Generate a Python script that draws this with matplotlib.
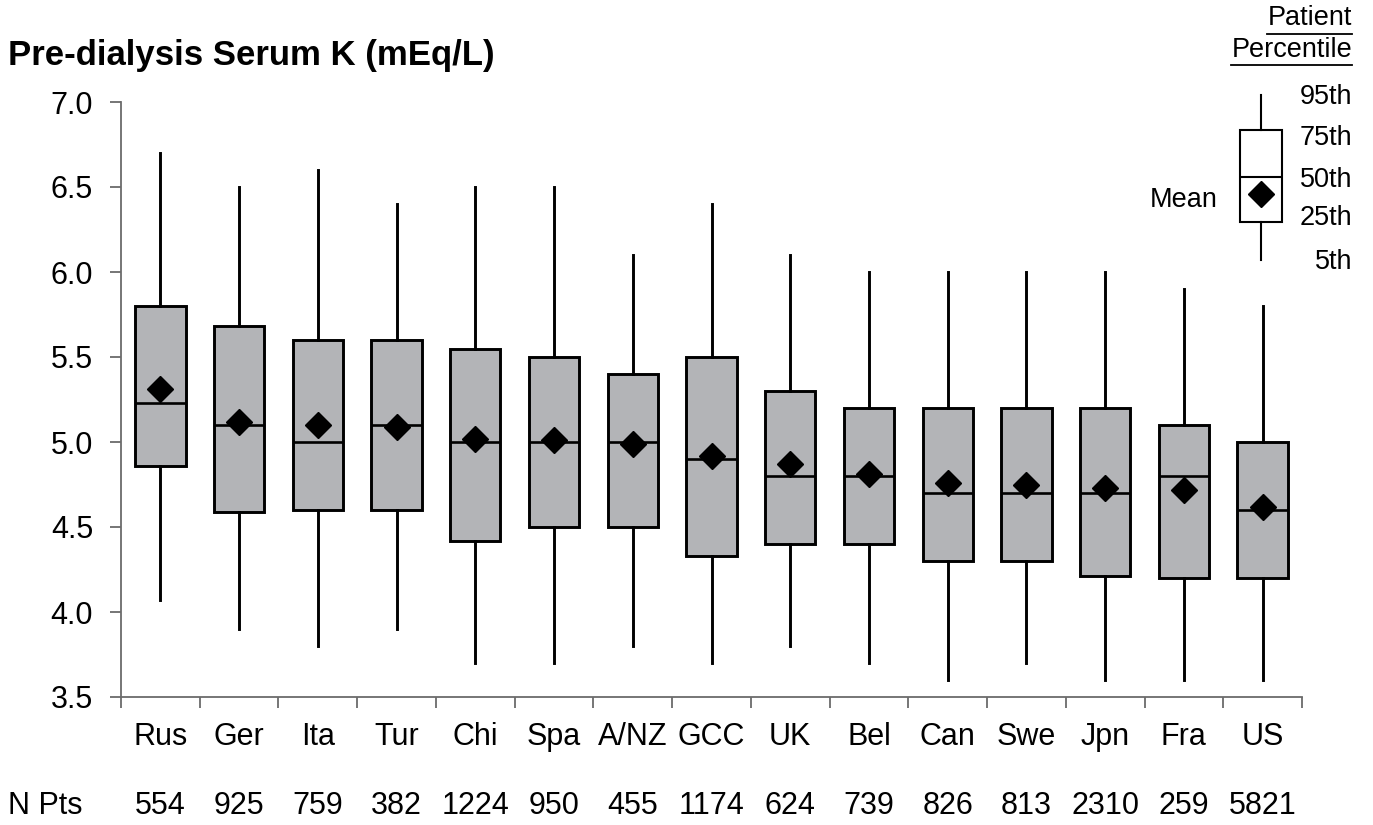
import matplotlib
matplotlib.use("Agg")
import matplotlib.pyplot as plt

plt.rcParams['font.family'] = ['Liberation Sans', 'DejaVu Sans']

countries = ["Rus", "Ger", "Ita", "Tur", "Chi", "Spa", "A/NZ", "GCC",
             "UK", "Bel", "Can", "Swe", "Jpn", "Fra", "US"]
n_pts = [554, 925, 759, 382, 1224, 950, 455, 1174, 624, 739, 826, 813, 2310, 259, 5821]

p5 = [4.07, 3.9, 3.8, 3.9, 3.7, 3.7, 3.8, 3.7, 3.8, 3.7, 3.6, 3.7, 3.6, 3.6, 3.6]
p25 = [4.86, 4.59, 4.6, 4.6, 4.42, 4.5, 4.5, 4.33, 4.4, 4.4, 4.3, 4.3, 4.21, 4.2, 4.2]
p50 = [5.23, 5.1, 5.0, 5.1, 5.0, 5.0, 5.0, 4.9, 4.8, 4.8, 4.7, 4.7, 4.7, 4.8, 4.6]
p75 = [5.8, 5.68, 5.6, 5.6, 5.55, 5.5, 5.4, 5.5, 5.3, 5.2, 5.2, 5.2, 5.2, 5.1, 5.0]
p95 = [6.7, 6.5, 6.6, 6.4, 6.5, 6.5, 6.1, 6.4, 6.1, 6.0, 6.0, 6.0, 6.0, 5.9, 5.8]
means = [5.31, 5.12, 5.1, 5.09, 5.02, 5.01, 4.99, 4.92, 4.87, 4.81, 4.76, 4.75, 4.73, 4.72, 4.62]

box_fill = "#b3b4b7"
spine_col = "#6b6b6b"
fs = 22

fig = plt.figure(figsize=(13.73, 8.25), dpi=100)
W, H = 1373, 825
ax = fig.add_axes([121 / W, 1 - 697 / H, (1302 - 121) / W, (697 - 102) / H])

stats = []
for i in range(len(countries)):
    stats.append(dict(label=countries[i], whislo=p5[i], q1=p25[i], med=p50[i],
                      q3=p75[i], whishi=p95[i], mean=means[i], fliers=[]))

ax.bxp(stats, positions=range(len(countries)), widths=0.64, patch_artist=True,
       showmeans=True, showcaps=False,
       boxprops=dict(facecolor=box_fill, edgecolor="black", linewidth=2.1),
       whiskerprops=dict(color="black", linewidth=2.1),
       medianprops=dict(color="black", linewidth=1.9),
       meanprops=dict(marker="D", markerfacecolor="black", markeredgecolor="black",
                      markersize=13))

ax.set_xlim(-0.5, len(countries) - 0.5)
ax.set_ylim(3.5, 7.0)
ax.set_yticks([3.5, 4.0, 4.5, 5.0, 5.5, 6.0, 6.5, 7.0])
ax.set_yticklabels(["3.5", "4.0", "4.5", "5.0", "5.5", "6.0", "6.5", "7.0"])
ax.set_xticks([i - 0.5 for i in range(len(countries) + 1)])
ax.set_xticklabels([])
ax.tick_params(axis="y", labelsize=fs, length=8, width=1.3, color=spine_col, pad=12)
ax.tick_params(axis="x", length=8, width=1.3, color=spine_col)
for s in ["top", "right"]:
    ax.spines[s].set_visible(False)
for s in ["left", "bottom"]:
    ax.spines[s].set_color(spine_col)
    ax.spines[s].set_linewidth(1.3)

# category names and patient counts
for i, (c, n) in enumerate(zip(countries, n_pts)):
    ax.text(i, -0.068, c, transform=ax.get_xaxis_transform(), ha="center", va="center",
            fontsize=fs)
    ax.text(i, -0.183, str(n), transform=ax.get_xaxis_transform(), ha="center", va="center",
            fontsize=fs)

# overlay in pixel coords for title, N Pts, and legend key
ov = fig.add_axes([0, 0, 1, 1])
ov.set_xlim(0, W)
ov.set_ylim(H, 0)
ov.axis("off")

ov.text(8, 55, "Pre-dialysis Serum K (mEq/L)", fontsize=25, fontweight="bold",
        ha="left", va="center")
ov.text(8, 806, "N Pts", fontsize=fs, ha="left", va="center")

# legend key
key = [dict(whislo=260, q1=222, med=177, q3=130, whishi=95, mean=194, fliers=[])]
ov.bxp(key, positions=[1261], widths=42, patch_artist=True, showmeans=True,
       showcaps=False, manage_ticks=False,
       boxprops=dict(facecolor="white", edgecolor="black", linewidth=1.5),
       whiskerprops=dict(color="black", linewidth=1.5),
       medianprops=dict(color="black", linewidth=1.5),
       meanprops=dict(marker="D", markerfacecolor="black", markeredgecolor="black",
                      markersize=13))
for lab, yy in zip(["95th", "75th", "50th", "25th", "5th"], [97, 138, 180, 218, 262]):
    ov.text(1352, yy, lab, fontsize=19.5, ha="right", va="center")
ov.text(1218, 200, "Mean", fontsize=19.5, ha="right", va="center")
ov.text(1352, 18, "Patient", fontsize=19.5, ha="right", va="center")
ov.text(1352, 50, "Percentile", fontsize=19.5, ha="right", va="center")
ov.plot([1267, 1352], [34, 34], color="black", linewidth=1.3)
ov.plot([1231, 1352], [65, 65], color="black", linewidth=1.3)

fig.savefig("out.png", dpi=100)
